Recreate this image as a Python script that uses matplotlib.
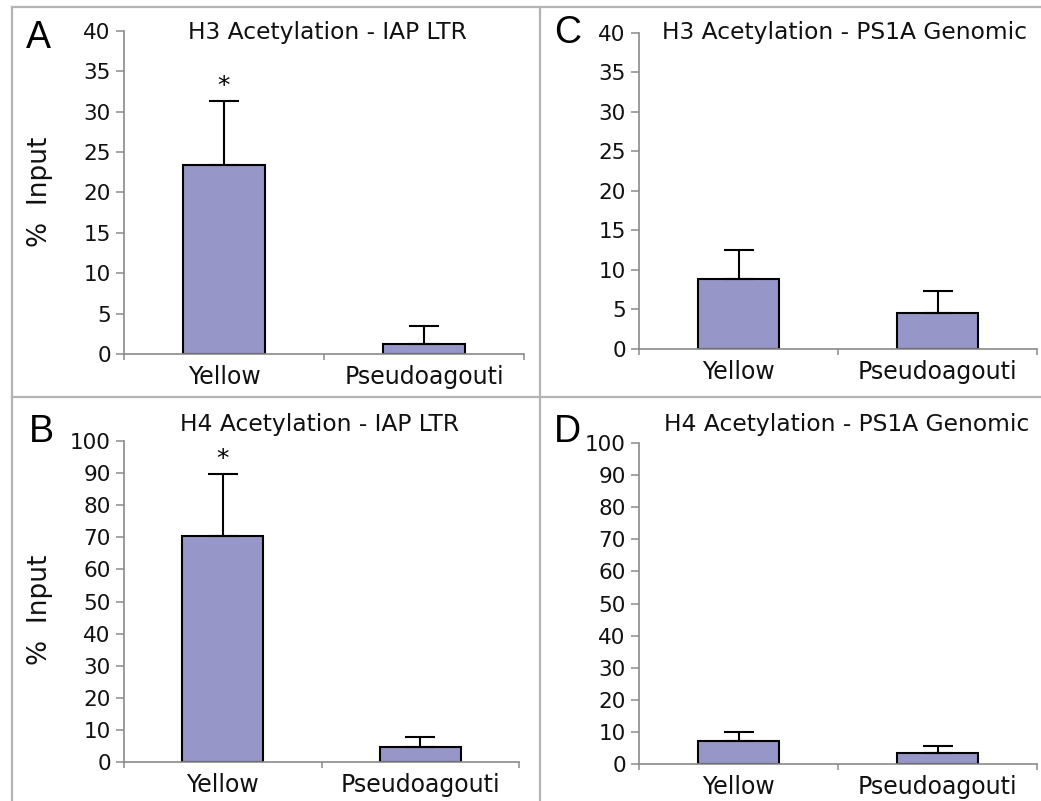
import matplotlib
matplotlib.use("Agg")
import matplotlib.pyplot as plt
from matplotlib.lines import Line2D

# data
categories = ['Yellow', 'Pseudoagouti']

h3_iap = [23.4, 1.3]
h3_iap_err = [7.9, 2.2]

h3_ps1a = [8.8, 4.6]
h3_ps1a_err = [3.7, 2.8]

h4_iap = [70.3, 4.7]
h4_iap_err = [19.4, 3.0]

h4_ps1a = [7.2, 3.4]
h4_ps1a_err = [2.8, 2.1]

W, H = 1041, 801
fig = plt.figure(figsize=(W / 100, H / 100), dpi=100)

bar_col = '#9696C8'
axis_col = '#8a8a8a'
frame_col = '#b4b4b4'


def rect(x0, yb, x1, yt):
    # pixel box -> figure fraction
    return [x0 / W, 1 - yb / H, (x1 - x0) / W, (yb - yt) / H]


def fxy(x, y):
    return x / W, 1 - y / H


panels = [
    # letter, title, values, errors, ymax, step, axes box, letter pos, title pos, star, ylabel pos
    ('A', 'H3 Acetylation - IAP LTR', h3_iap, h3_iap_err, 40, 5,
     (124, 354, 524, 31), (38, 38), (327, 32), True, (40, 192)),
    ('C', 'H3 Acetylation - PS1A Genomic', h3_ps1a, h3_ps1a_err, 40, 5,
     (639, 349, 1037, 33), (568, 33), (845, 33), False, None),
    ('B', 'H4 Acetylation - IAP LTR', h4_iap, h4_iap_err, 100, 10,
     (124, 762, 519, 441), (41, 432), (320, 425), True, (40, 610)),
    ('D', 'H4 Acetylation - PS1A Genomic', h4_ps1a, h4_ps1a_err, 100, 10,
     (639, 764, 1037, 443), (567, 432), (847, 425), False, None),
]

for letter, title, vals, err, ymax, step, box, lxy, txy, star, ylab in panels:
    ax = fig.add_axes(rect(*box))
    x = range(len(categories))
    ax.bar(x, vals, width=0.41, color=bar_col, edgecolor='black', linewidth=1.5, zorder=2)
    ax.errorbar(x, vals, yerr=[[0] * len(err), err], fmt='none', ecolor='black',
                elinewidth=1.5, capsize=11, capthick=1.5, zorder=3)
    if star:
        ax.annotate('*', (0, vals[0] + err[0]), xytext=(0, 2), textcoords='offset points',
                    ha='center', va='bottom', fontsize=18)

    ax.set_xlim(-0.5, len(categories) - 0.5)
    ax.set_ylim(0, ymax)
    ax.set_yticks(range(0, ymax + 1, step))
    ax.set_xticks(list(x))
    ax.set_xticklabels(categories)
    ax.set_xticks([-0.5, 0.5, 1.5], minor=True)

    for s in ['top', 'right']:
        ax.spines[s].set_visible(False)
    for s in ['left', 'bottom']:
        ax.spines[s].set_color(axis_col)
        ax.spines[s].set_linewidth(1.2)

    ax.tick_params(axis='y', direction='out', length=5.5, width=1.1, color=axis_col,
                   labelsize=15.5, pad=4, labelcolor='#111111')
    ax.tick_params(axis='x', which='major', length=0, labelsize=17, pad=8, labelcolor='#111111')
    ax.tick_params(axis='x', which='minor', direction='out', length=4.5, width=1.1, color=axis_col)

    fig.text(*fxy(*txy), title, ha='center', va='center', fontsize=16.8, color='#111111')
    fig.text(*fxy(*lxy), letter, ha='center', va='center', fontsize=27,
             family='Liberation Sans')
    if ylab:
        fig.text(*fxy(*ylab), '%  Input', ha='center', va='center', rotation=90,
                 fontsize=19, color='#111111')

# grey panel frame
frame = [
    ((12, W), (7, 7)),
    ((12, 12), (7, H)),
    ((540, 540), (7, H)),
    ((12, W), (397, 397)),
]
for xs, ys in frame:
    fig.add_artist(Line2D([v / W for v in xs], [1 - v / H for v in ys],
                          transform=fig.transFigure, color=frame_col, linewidth=1.6))

fig.savefig('out.png', dpi=100)
